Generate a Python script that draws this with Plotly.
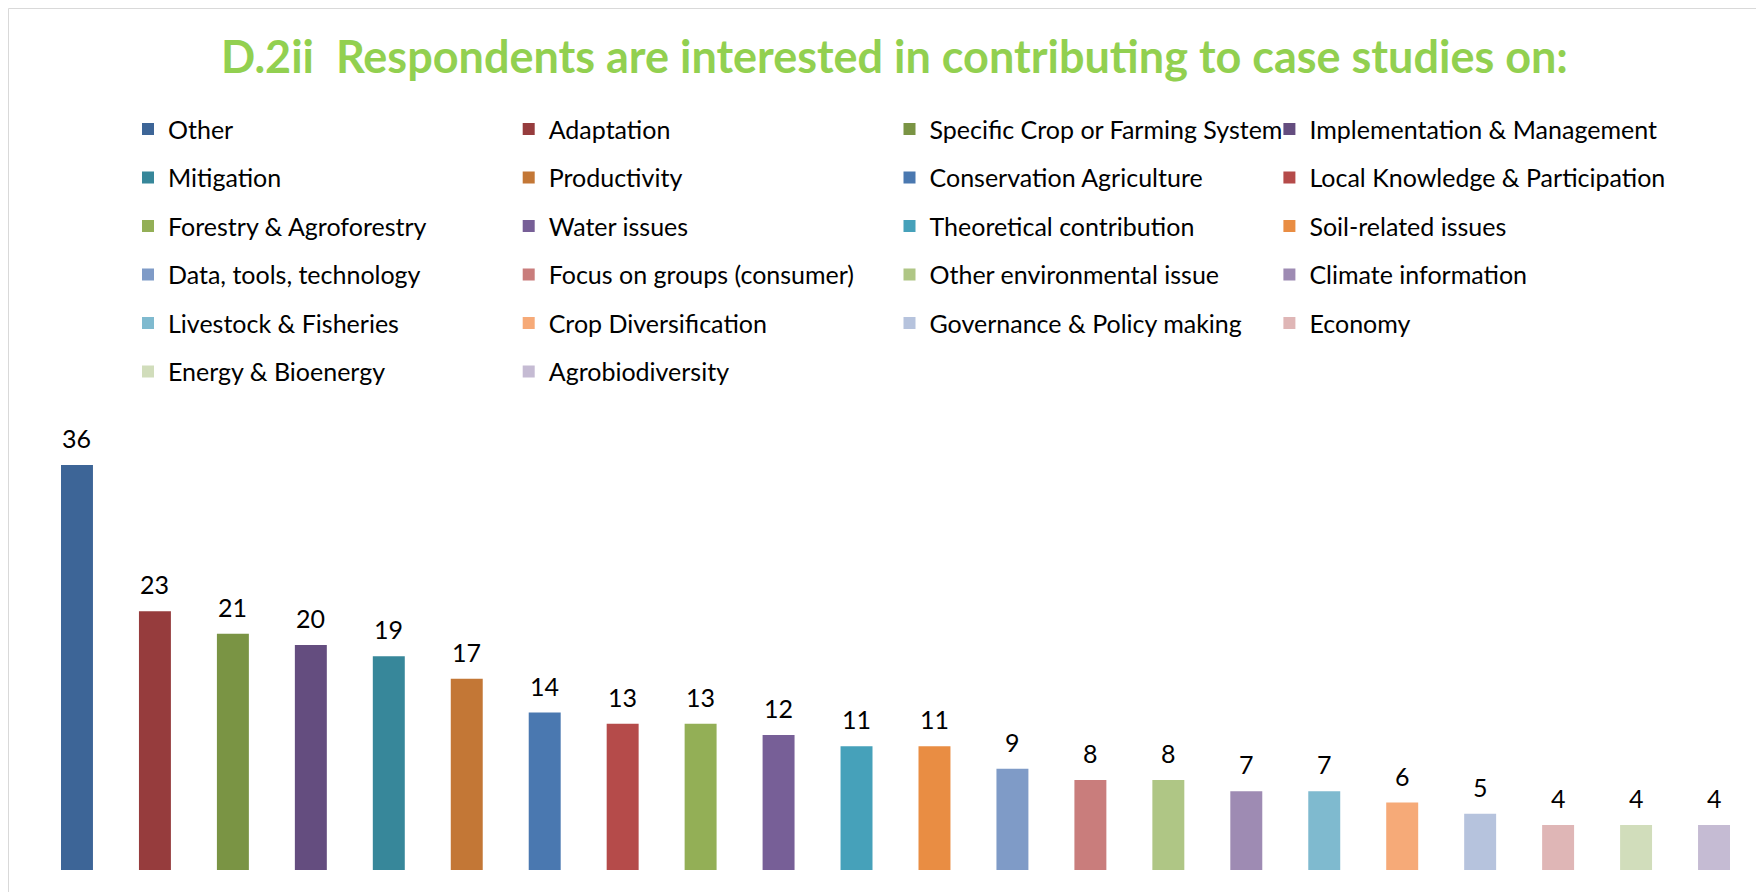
import plotly.graph_objects as go

categories = ["Other", "Adaptation", "Specific Crop or Farming System", "Implementation & Management",
              "Mitigation", "Productivity", "Conservation Agriculture", "Local Knowledge & Participation",
              "Forestry & Agroforestry", "Water issues", "Theoretical contribution", "Soil-related issues",
              "Data, tools, technology", "Focus on groups (consumer)", "Other environmental issue",
              "Climate information", "Livestock & Fisheries", "Crop Diversification",
              "Governance & Policy making", "Economy", "Energy & Bioenergy", "Agrobiodiversity"]
values = [36, 23, 21, 20, 19, 17, 14, 13, 13, 12, 11, 11, 9, 8, 8, 7, 7, 6, 5, 4, 4, 4]
colors = ["#3D6597", "#963C3D", "#7A9444", "#644D7F", "#37879A", "#C37736", "#4A78B0", "#B54B4A",
          "#93AF56", "#775F97", "#46A1BA", "#E98D43", "#7F9BC7", "#C97D7C", "#AFC685", "#9E8BB3",
          "#7FBACF", "#F6AA78", "#B6C3DD", "#DFB6B6", "#D1DDBB", "#C5BBD3"]

FONT = "Lato"
W, H = 1764, 892
ML, MR, MT, MB = 30, 19, 412, 30
PW = W - ML - MR
PH = H - MT - MB

fig = go.Figure()
legend_names = ["legend", "legend2", "legend3", "legend4"]
for i, (c, v, col) in enumerate(zip(categories, values, colors)):
    fig.add_trace(go.Bar(
        x=[c], y=[v], name=c, marker=dict(color=col, line=dict(width=0)),
        width=0.41, legend=legend_names[i % 4], legendgroup=c, showlegend=True,
        hoverinfo="x+y"))

for c, v in zip(categories, values):
    fig.add_annotation(x=c, y=v, text=str(v), showarrow=False, yanchor="bottom",
                       yshift=10, font=dict(family=FONT, size=25, color="#000000"))

def px_to_paper_x(px):
    return (px - ML) / PW

def px_to_paper_y(py):
    return 1 + (MT - py) / PH

col_left = [120, 500.7, 881.5, 1261.4]
leg_top = 98.3
legend_common = dict(orientation="v", xanchor="left", yanchor="top",
                     font=dict(family=FONT, size=25, color="#000000"),
                     tracegroupgap=13, bgcolor="rgba(0,0,0,0)", borderwidth=0)
layout_legends = {}
for k, name in enumerate(legend_names):
    layout_legends[name] = dict(x=px_to_paper_x(col_left[k]), y=px_to_paper_y(leg_top), **legend_common)

fig.update_layout(
    width=W, height=H,
    margin=dict(l=ML, r=MR, t=MT, b=MB, pad=0),
    paper_bgcolor="white", plot_bgcolor="white",
    title=dict(text="D.2ii\u00a0 Respondents are interested in contributing to case studies on:",
               x=886.5 / W, xanchor="center", y=1 - 49.5 / H, yanchor="middle", yref="container",
               font=dict(family=FONT, size=45, color="#92D050", weight="bold")),
    bargap=0.59,
    xaxis=dict(showticklabels=False, showgrid=False, zeroline=False, showline=False, ticks="",
               categoryorder="array", categoryarray=categories),
    yaxis=dict(range=[0, 40], showticklabels=False, showgrid=False, zeroline=False, showline=False, ticks=""),
    showlegend=True,
    **layout_legends,
)

fig.add_shape(type="rect", xref="paper", yref="paper",
              x0=px_to_paper_x(0.5), x1=px_to_paper_x(1780), y0=px_to_paper_y(900), y1=px_to_paper_y(0.5),
              line=dict(color="#D9D9D9", width=1), fillcolor="rgba(0,0,0,0)", layer="below")

fig.write_html("out.html")
